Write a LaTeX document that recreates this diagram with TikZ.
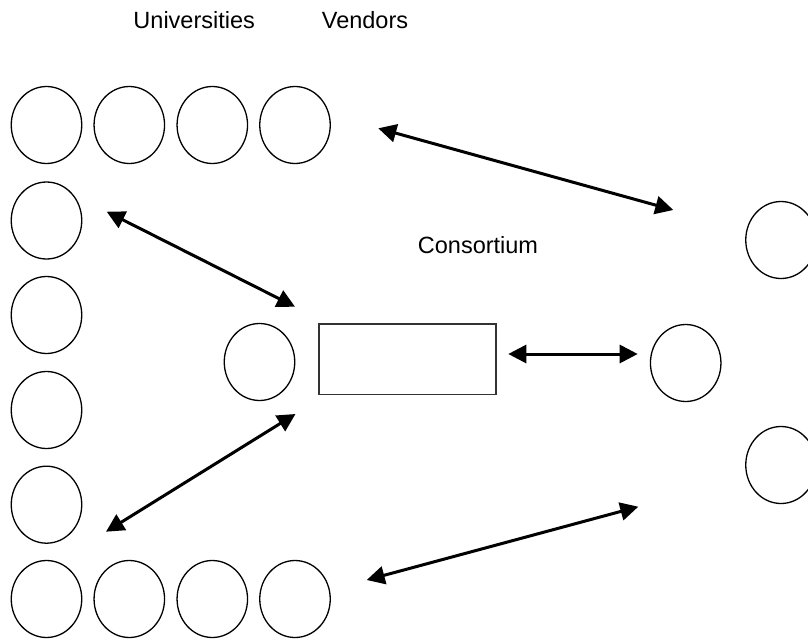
\documentclass[tikz,border=0pt]{standalone}
\usepackage{fontspec}
\setmainfont{Liberation Sans}
\usetikzlibrary{arrows.meta,shapes.geometric}
\begin{document}
\begin{tikzpicture}[x=1pt,y=-1pt,
  member/.style={draw=black, line width=1.3pt, ellipse, inner sep=0pt,
                 minimum width=70.5pt, minimum height=77pt},
  hub/.style={draw=black!80, line width=1.3pt, rectangle, inner sep=0pt,
              minimum width=177pt, minimum height=70.5pt},
  label/.style={font=\fontsize{23.5}{28}\selectfont, anchor=base, inner sep=0pt},
  link/.style={line width=3pt, {Triangle[length=18pt,width=18pt]}-{Triangle[length=18pt,width=18pt]}}]
\useasboundingbox (0,0) rectangle (808,640);
\clip (0,0) rectangle (808,640);

% headings
\node[label] (tuni) at (194.2,28.3) {Universities};
\node[label] (tven) at (365,28.3) {Vendors};
\node[label] (tcon) at (478,253.3) {Consortium};

% university ring: top row
\node[member] (u1) at (46.5,125) {};
\node[member] (u2) at (129.3,125) {};
\node[member] (u3) at (212.3,125) {};
\node[member] (u4) at (295,125) {};
% left column
\node[member] (u5) at (46.5,220.5) {};
\node[member] (u6) at (46.5,315) {};
\node[member] (u7) at (46.5,410) {};
\node[member] (u8) at (46.5,504.7) {};
% bottom row
\node[member] (u9) at (46.5,599) {};
\node[member] (u10) at (129.3,599) {};
\node[member] (u11) at (212.3,599) {};
\node[member] (u12) at (295,599) {};

% consortium
\node[member] (cm) at (259.5,362) {};
\node[hub] (cbox) at (407.5,359.2) {};

% vendors
\node[member] (v1) at (781,240) {};
\node[member] (v2) at (685.7,363) {};
\node[member] (v3) at (781,465) {};

% arrow end points
\coordinate (a1s) at (378.3,128.3);
\coordinate (a1e) at (673.3,210);
\coordinate (a2s) at (106.7,211.7);
\coordinate (a2e) at (295,306.7);
\coordinate (a3s) at (106,531.7);
\coordinate (a3e) at (295.5,414);
\coordinate (a4s) at (508.3,354);
\coordinate (a4e) at (637.7,354);
\coordinate (a5s) at (366.7,580);
\coordinate (a5e) at (638.3,506.7);

\draw[link] (a1s) -- (a1e);
\draw[link] (a2s) -- (a2e);
\draw[link] (a3s) -- (a3e);
\draw[link] (a4s) -- (a4e);
\draw[link] (a5s) -- (a5e);
\end{tikzpicture}
\end{document}
